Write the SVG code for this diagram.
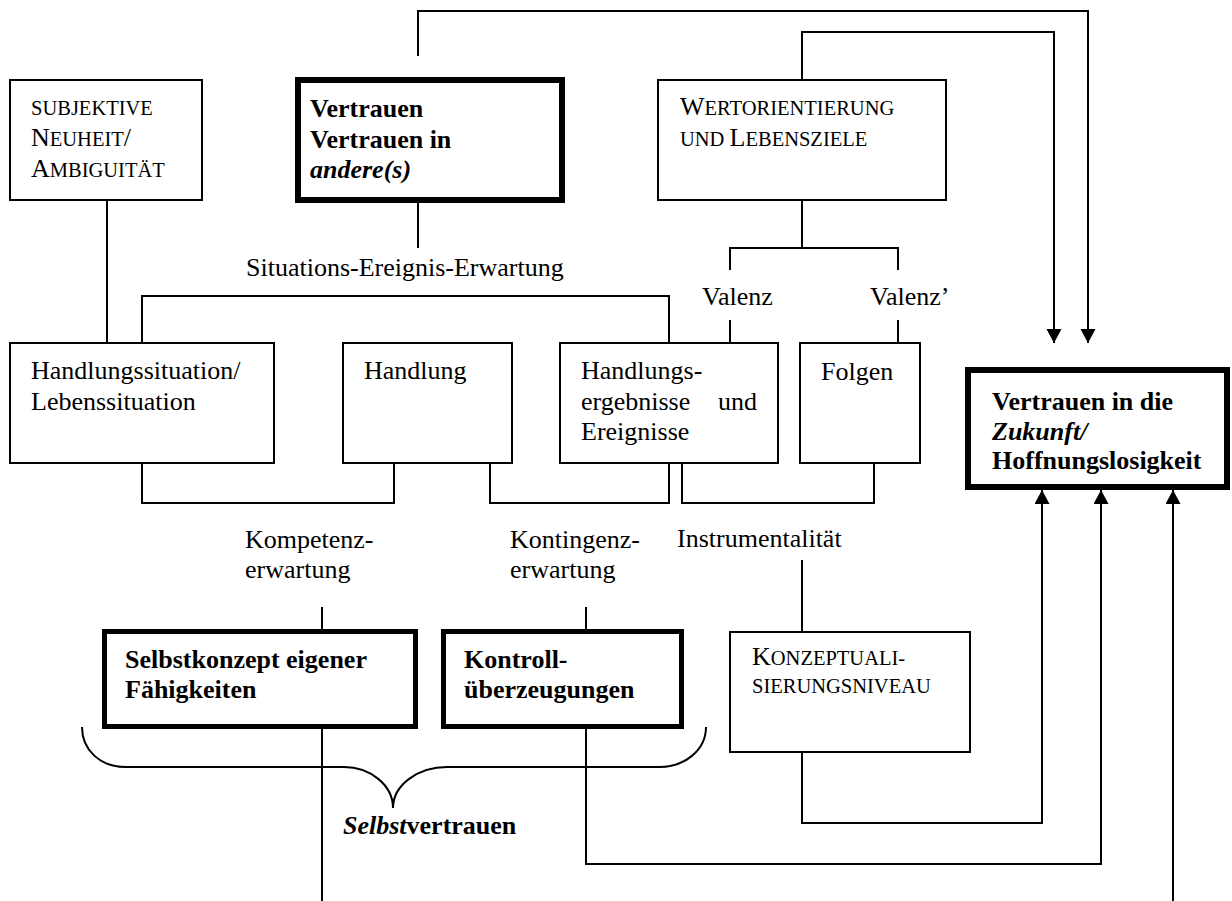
<svg xmlns="http://www.w3.org/2000/svg" width="1232" height="901" viewBox="0 0 1232 901">
<style>
text{font-family:"Liberation Serif","Times New Roman",serif;font-size:26px;fill:#000}
.b{font-weight:bold}
.i{font-style:italic}
.sc{font-size:20.5px}
.box{fill:#fff;stroke:#000;stroke-width:2}
.tbox{fill:#fff;stroke:#000;stroke-width:6}
.mbox{fill:#fff;stroke:#000;stroke-width:5}
.ln{fill:none;stroke:#000;stroke-width:2}
</style>
<defs>
<marker id="ah" markerUnits="userSpaceOnUse" markerWidth="16" markerHeight="16" refX="14" refY="7.5" orient="auto">
<path d="M0,0 L14,7.5 L0,15 z" fill="#000"/>
</marker>
</defs>
<g id="connectors">
<path class="ln" d="M418,56 V11 H1088 V343" marker-end="url(#ah)"/>
<path class="ln" d="M802,80 V32 H1054 V343" marker-end="url(#ah)"/>
<path class="ln" d="M107,200 V343"/>
<path class="ln" d="M418,202 V248"/>
<path class="ln" d="M142,343 V296 H669 V343"/>
<path class="ln" d="M802,200 V248"/>
<path class="ln" d="M730,270 V248 H898 V270"/>
<path class="ln" d="M730,320 V343"/>
<path class="ln" d="M898,320 V343"/>
<path class="ln" d="M142,463 V503 H394 V463"/>
<path class="ln" d="M490,463 V503 H669 V463"/>
<path class="ln" d="M682,463 V503 H874 V463"/>
<path class="ln" d="M322,607 V629"/>
<path class="ln" d="M586,607 V629"/>
<path class="ln" d="M802,560 V632"/>
<path class="ln" d="M802,752 V823 H1042 V490" marker-end="url(#ah)"/>
<path class="ln" d="M586,728 V864 H1101 V490" marker-end="url(#ah)"/>
<path class="ln" d="M322,728 V901"/>
<path class="ln" d="M1173,901 V490" marker-end="url(#ah)"/>
<path class="ln" d="M82,727 C82,750 100,767 126,767 H344 C370,767 393,785 393,808 C393,785 418,767 447,767 H659 C685,767 706,750 706,727"/>
</g>
<g id="n-subjektive">
<rect class="box" x="10" y="80" width="192" height="120"/>
<text x="31" y="115"><tspan class="sc">SUBJEKTIVE</tspan></text>
<text x="31" y="146">N<tspan class="sc">EUHEIT</tspan>/</text>
<text x="31" y="177">A<tspan class="sc">MBIGUITÄT</tspan></text>
</g>
<g id="n-vertrauen-andere">
<rect class="tbox" x="298" y="80" width="264" height="120"/>
<text class="b" x="310" y="117">Vertrauen</text>
<text class="b" x="310" y="148">Vertrauen in</text>
<text class="b i" x="310" y="178">andere(s)</text>
</g>
<g id="n-wert">
<rect class="box" x="658" y="80" width="288" height="120"/>
<text x="680" y="115">W<tspan class="sc">ERTORIENTIERUNG</tspan></text>
<text x="680" y="146"><tspan class="sc">UND </tspan>L<tspan class="sc">EBENSZIELE</tspan></text>
</g>
<text id="l-situations" x="246" y="276">Situations-Ereignis-Erwartung</text>
<text id="l-valenz" x="702" y="305">Valenz</text>
<text id="l-valenz2" x="870" y="305">Valenz’</text>
<g id="n-handlungssituation">
<rect class="box" x="10" y="343" width="264" height="120"/>
<text x="31" y="379">Handlungssituation/</text>
<text x="31" y="410">Lebenssituation</text>
</g>
<g id="n-handlung">
<rect class="box" x="343" y="343" width="169" height="120"/>
<text x="364" y="379">Handlung</text>
</g>
<g id="n-ergebnisse">
<rect class="box" x="560" y="343" width="218" height="120"/>
<text x="581" y="379">Handlungs-</text>
<text x="581" y="410">ergebnisse</text>
<text x="757" y="410" text-anchor="end">und</text>
<text x="581" y="440">Ereignisse</text>
</g>
<g id="n-folgen">
<rect class="box" x="800" y="343" width="120" height="120"/>
<text x="821" y="380">Folgen</text>
</g>
<g id="n-zukunft">
<rect class="tbox" x="968" y="370" width="259" height="117"/>
<text class="b" x="992" y="410">Vertrauen in die</text>
<text class="b i" x="992" y="440">Zukunft/</text>
<text class="b" x="992" y="469">Hoffnungslosigkeit</text>
</g>
<text id="l-kompetenz" x="245" y="548">Kompetenz-<tspan x="245" y="578">erwartung</tspan></text>
<text id="l-kontingenz" x="510" y="548">Kontingenz-<tspan x="510" y="578">erwartung</tspan></text>
<text id="l-instrumentalitaet" x="677" y="547">Instrumentalität</text>
<g id="n-selbstkonzept">
<rect class="mbox" x="104.5" y="631.5" width="311" height="95"/>
<text class="b" x="125" y="668">Selbstkonzept eigener</text>
<text class="b" x="125" y="698">Fähigkeiten</text>
</g>
<g id="n-kontroll">
<rect class="mbox" x="443.5" y="631.5" width="238" height="95"/>
<text class="b" x="464" y="668">Kontroll-</text>
<text class="b" x="464" y="698">überzeugungen</text>
</g>
<g id="n-konzept">
<rect class="box" x="730" y="632" width="240" height="120"/>
<text x="752" y="665">K<tspan class="sc">ONZEPTUALI-</tspan></text>
<text x="752" y="693"><tspan class="sc">SIERUNGSNIVEAU</tspan></text>
</g>
<text id="l-selbstvertrauen" class="b" x="343" y="834"><tspan class="i">Selbst</tspan>vertrauen</text>
</svg>
